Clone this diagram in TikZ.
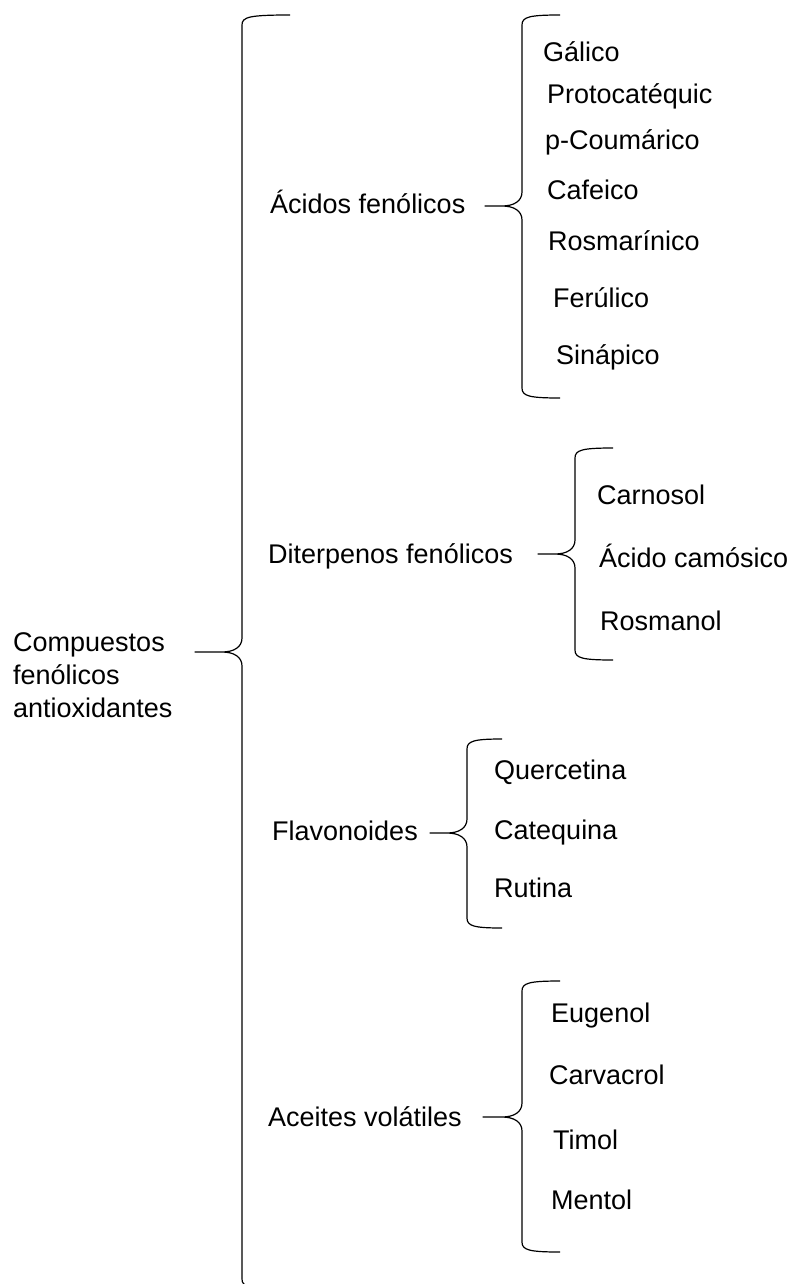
\documentclass[tikz,border=0pt]{standalone}
\usepackage{fontspec}
\setmainfont{Liberation Sans}
\usetikzlibrary{calc}
\tikzset{
	llave/.style={line width=1.2pt, line join=round},
	grupo/.style={anchor=west, inner sep=0pt, text height=19pt, text depth=5pt},
	item/.style ={anchor=west, inner sep=0pt, text height=19pt, text depth=5pt},
}
\begin{document}
\begin{tikzpicture}[x=1pt, y=-1pt, font=\fontsize{27}{33}\selectfont]
	\useasboundingbox (0,0) rectangle (793,1284);
	% raiz y grupos
	\node[anchor=north west, align=left, inner sep=0pt] (raiz) at (13,632) {Compuestos\\fenólicos\\antioxidantes};
	\node[grupo] (acidos) at (270,206) {Ácidos fenólicos};
	\node[grupo] (diterp) at (268,556) {Diterpenos fenólicos};
	\node[grupo] (flav) at (272,833) {Flavonoides};
	\node[grupo] (aceites) at (268,1119) {Aceites volátiles};
	% compuestos
	\foreach \t/\x/\y [count=\i] in {Gálico/543/55, Protocatéquic/547/97, p-Coumárico/545/143, Cafeico/547/193, Rosmarínico/548/243, Ferúlico/553/300, Sinápico/556/357,
		Carnosol/597/497, Ácido camósico/599/560, Rosmanol/600/623,
		Quercetina/494/772, Catequina/494/832, Rutina/494/890,
		Eugenol/551/1015, Carvacrol/549/1077, Timol/553/1142, Mentol/551/1202} {
		\node[item] (c\i) at (\x,\y) {\t};
	}
	% llaves
	\foreach \n/\x/\ya/\ym/\yb/\w/\h in {raiz/242/15/652/1289/47/48, acidos/522/15/206/398/37/38, diterp/575/448/554/660/37/38, flav/467/739/833/928/37/35, aceites/522/981/1117/1252/39/38} {
		\draw[llave] (\x+\h,\ya) .. controls (\x+7,\ya) and (\x,\ya+2) .. (\x,\ya+10) -- (\x,\ym-14)
			.. controls (\x,\ym-5) and (\x-8,\ym) .. (\x-20,\ym) -- (\x-\w,\ym) coordinate (p\n) -- (\x-20,\ym)
			.. controls (\x-8,\ym) and (\x,\ym+5) .. (\x,\ym+14) -- (\x,\yb-10)
			.. controls (\x,\yb-2) and (\x+7,\yb) .. (\x+\h,\yb);
	}
\end{tikzpicture}
\end{document}
